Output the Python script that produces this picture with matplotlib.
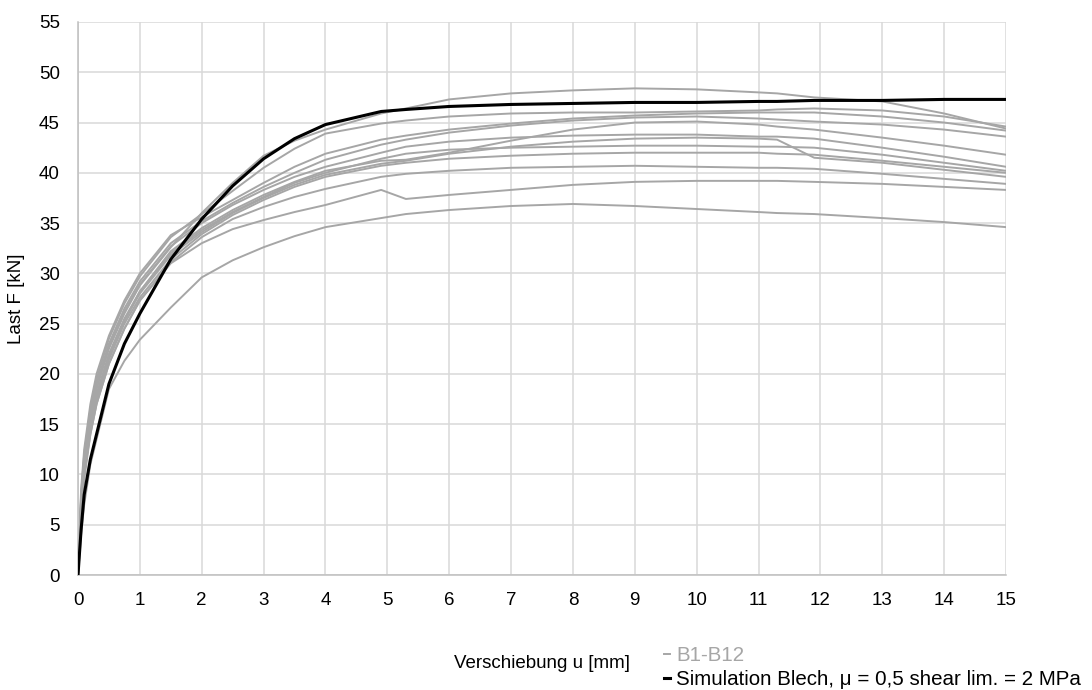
import matplotlib
matplotlib.use("Agg")
import matplotlib.pyplot as plt
from matplotlib.lines import Line2D

plt.rcParams['font.family'] = ['Liberation Sans', 'DejaVu Sans']

# displacement sampling points [mm]
u_mm = [0, 0.05, 0.1, 0.2, 0.3, 0.5, 0.75, 1, 1.5, 2, 2.5, 3, 3.5, 4, 4.9, 5.3,
        6, 7, 8, 9, 10, 11, 11.3, 11.9, 13, 14, 15]

# simulation (sheet metal, mu = 0.5, shear limit 2 MPa) [kN]
sim_F = [0, 4.5, 8.0, 11.5, 14.0, 19.0, 23.0, 26.0, 31.4, 35.4, 38.7, 41.4, 43.4, 44.8,
         46.1, 46.3, 46.6, 46.8, 46.9, 47.0, 47.0, 47.1, 47.1, 47.2, 47.2, 47.3, 47.3]

# test specimens B1-B12 [kN]
B1 = [0, 7.0, 11.0, 15.5, 18.5, 22.5, 26.0, 28.8, 32.6, 36.0, 39.0, 41.7, 43.2, 44.3,
      45.9, 46.4, 47.3, 47.9, 48.2, 48.4, 48.3, 48.0, 47.9, 47.5, 47.1, 45.9, 44.4]
B2 = [0, 8.0, 12.0, 16.5, 19.5, 23.5, 27.0, 29.7, 33.6, 35.9, 38.2, 40.5, 42.4, 43.9,
      44.9, 45.2, 45.6, 45.9, 46.0, 46.0, 46.1, 46.2, 46.3, 46.4, 46.2, 45.6, 44.6]
B3 = [0, 8.5, 12.5, 17.0, 20.0, 23.8, 27.3, 30.0, 33.8, 35.6, 37.3, 39.0, 40.6, 41.9,
      43.3, 43.7, 44.3, 44.9, 45.4, 45.7, 45.9, 46.0, 46.0, 46.0, 45.6, 45.0, 44.2]
B4 = [0, 7.5, 11.5, 16.0, 19.0, 23.0, 26.5, 29.2, 33.0, 35.2, 37.0, 38.6, 40.0, 41.3,
      42.8, 43.3, 44.0, 44.7, 45.2, 45.5, 45.6, 45.4, 45.3, 45.1, 44.8, 44.3, 43.6]
B5 = [0, 6.5, 10.0, 14.5, 17.5, 21.5, 25.3, 28.2, 32.2, 34.5, 36.3, 37.8, 39.1, 40.2,
      41.2, 41.3, 42.0, 43.2, 44.3, 45.0, 45.1, 44.8, 44.6, 44.3, 43.5, 42.7, 41.8]
B6 = [0, 7.5, 11.5, 16.0, 19.0, 22.8, 26.2, 28.9, 32.7, 35.0, 36.8, 38.3, 39.6, 40.6,
      42.0, 42.6, 43.1, 43.5, 43.7, 43.8, 43.8, 43.6, 43.6, 43.4, 42.5, 41.6, 40.6]
B7 = [0, 7.0, 10.5, 15.0, 18.0, 22.0, 25.5, 28.2, 32.0, 34.3, 36.1, 37.6, 39.0, 40.0,
      41.4, 41.9, 42.3, 42.5, 42.6, 42.7, 42.7, 42.6, 42.6, 42.5, 41.8, 41.0, 40.2]
B8 = [0, 6.5, 10.0, 14.5, 17.5, 21.7, 25.3, 28.0, 31.8, 34.1, 36.0, 37.5, 38.8, 39.8,
      40.9, 41.2, 41.9, 42.6, 43.1, 43.4, 43.5, 43.4, 43.3, 41.5, 41.0, 40.3, 39.6]
B9 = [0, 7.0, 10.5, 15.0, 18.0, 21.5, 25.0, 27.6, 31.4, 33.9, 35.8, 37.3, 38.6, 39.6,
      40.7, 41.0, 41.4, 41.7, 41.9, 42.0, 42.0, 42.0, 41.9, 41.8, 41.2, 40.6, 40.0]
B10 = [0, 6.5, 10.0, 14.0, 17.0, 21.0, 24.5, 27.3, 31.1, 33.6, 35.4, 36.6, 37.6, 38.4,
       39.6, 39.9, 40.2, 40.5, 40.6, 40.7, 40.6, 40.5, 40.5, 40.4, 39.9, 39.4, 38.9]
B11 = [0, 6.5, 9.5, 14.0, 17.0, 21.0, 24.5, 27.3, 31.0, 33.0, 34.4, 35.3, 36.1, 36.8,
       38.3, 37.4, 37.8, 38.3, 38.8, 39.1, 39.2, 39.2, 39.2, 39.1, 38.9, 38.6, 38.3]
B12 = [0, 4.0, 7.0, 11.0, 13.5, 18.5, 21.3, 23.4, 26.6, 29.6, 31.3, 32.6, 33.7, 34.6,
       35.5, 35.9, 36.3, 36.7, 36.9, 36.7, 36.4, 36.1, 36.0, 35.9, 35.5, 35.1, 34.6]

specimens = [B1, B2, B3, B4, B5, B6, B7, B8, B9, B10, B11, B12]

x_ticks = list(range(0, 16))
y_ticks = list(range(0, 56, 5))

gray = '#A6A6A6'
grid_c = '#D9D9D9'

fig = plt.figure(figsize=(10.92, 6.90), dpi=100)
ax = fig.add_axes([78 / 1092, 1 - 575 / 690, (1006 - 78) / 1092, (575 - 22) / 690])

for F in specimens:
    ax.plot(u_mm, F, color=gray, lw=1.4, solid_joinstyle='round', zorder=2)
ax.plot(u_mm, sim_F, color='black', lw=2.2, solid_joinstyle='round', zorder=3)

ax.set_xlim(0, 15)
ax.set_ylim(0, 55)
ax.set_xticks(x_ticks)
ax.set_yticks(y_ticks)
ax.grid(True, color=grid_c, lw=1.1, zorder=0)
ax.set_axisbelow(True)
ax.tick_params(axis='both', length=0, labelsize=13.5, colors='black')
ax.tick_params(axis='x', pad=12)
ax.tick_params(axis='y', pad=13)
for side in ('top', 'right'):
    ax.spines[side].set_visible(False)
for side in ('left', 'bottom'):
    ax.spines[side].set_color('#BFBFBF')
    ax.spines[side].set_linewidth(1.1)

ax.set_ylabel('Last F [kN]', fontsize=13.5, labelpad=10)
fig.text(542 / 1092, 1 - 664 / 690, 'Verschiebung u [mm]', fontsize=13.5,
         ha='center', va='center')

handles = [Line2D([], [], color=gray, lw=1.4),
           Line2D([], [], color='black', lw=2.2)]
leg = fig.legend(handles, ['B1-B12', 'Simulation Blech, \u03bc = 0,5 shear lim. = 2 MPa'],
                 loc='upper left', bbox_to_anchor=(664 / 1092, 1 - 646 / 690),
                 frameon=False, fontsize=14.8, handlelength=0.3, handletextpad=0.3,
                 labelspacing=0.25, borderpad=0, borderaxespad=0)
leg.get_texts()[0].set_color(gray)

fig.savefig('out.png', dpi=100)
